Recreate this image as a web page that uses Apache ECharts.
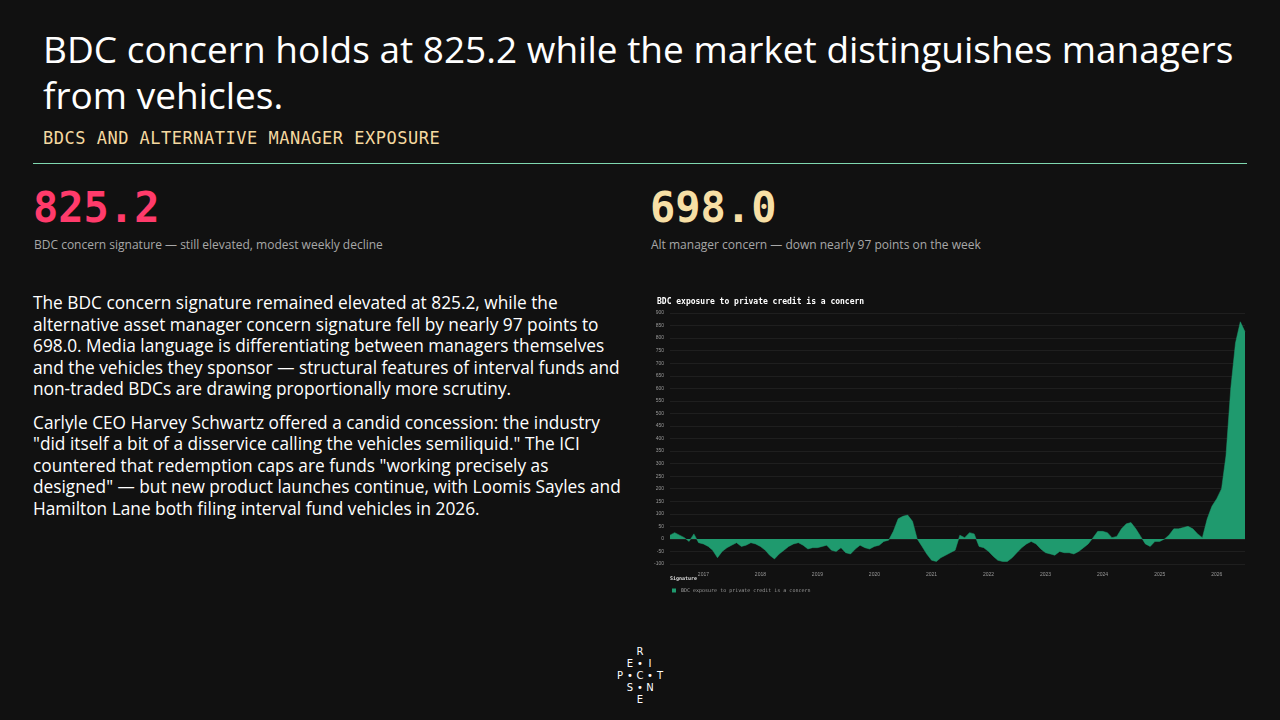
<!DOCTYPE html>
<html><head><meta charset="utf-8">
<script src="https://cdn.jsdelivr.net/npm/echarts@6/dist/echarts.min.js"></script>
<style>
body{margin:0;width:1280px;height:720px;background:#111111;color:#fff;font-family:"Open Sans",sans-serif;position:relative;overflow:hidden}
.abs{position:absolute}
h1{position:absolute;left:43px;top:26px;margin:0;font-weight:400;font-size:37px;line-height:46px;width:1220px}
.sub{left:43px;top:128px;font-family:"DejaVu Sans Mono",monospace;color:#f5d9a0;font-size:17px;letter-spacing:0.5px}
.rule{left:33px;top:163px;width:1214px;height:1px;background:#7fd8b0}
.big{font-family:"DejaVu Sans Mono",monospace;font-weight:bold;font-size:42px}
.cap{font-size:12px;color:#a8a8a8}
.body{left:33px;top:292px;width:595px;font-size:17.3px;line-height:21.5px}
.body p{margin:0 0 12px 0}
#chart{left:645px;top:290px;width:610px;height:310px}
.logo span{position:absolute;font-size:10px;font-family:"DejaVu Sans",sans-serif;color:#fff;transform:translate(-50%,-50%)}
</style></head><body>
<h1>BDC concern holds at 825.2 while the market distinguishes managers from vehicles.</h1>
<div class="abs sub">BDCS AND ALTERNATIVE MANAGER EXPOSURE</div>
<div class="abs rule"></div>
<div class="abs big" style="left:33px;top:183px;color:#ff3b6b">825.2</div>
<div class="abs cap" style="left:34px;top:236px">BDC concern signature — still elevated, modest weekly decline</div>
<div class="abs big" style="left:650px;top:183px;color:#f7dfa5">698.0</div>
<div class="abs cap" style="left:651px;top:236px">Alt manager concern — down nearly 97 points on the week</div>
<div class="abs body">
<p>The BDC concern signature remained elevated at 825.2, while the alternative asset manager concern signature fell by nearly 97 points to 698.0. Media language is differentiating between managers themselves and the vehicles they sponsor — structural features of interval funds and non-traded BDCs are drawing proportionally more scrutiny.</p>
<p>Carlyle CEO Harvey Schwartz offered a candid concession: the industry "did itself a bit of a disservice calling the vehicles semiliquid." The ICI countered that redemption caps are funds "working precisely as designed" — but new product launches continue, with Loomis Sayles and Hamilton Lane both filing interval fund vehicles in 2026.</p>
</div>
<div id="chart" class="abs"></div>
<div class="abs logo" style="left:640px;top:675px">
<span style="left:0;top:-24px">R</span>
<span style="left:-10px;top:-12px">E</span><span style="left:0;top:-12px">•</span><span style="left:10px;top:-12px">I</span>
<span style="left:-20px;top:0">P</span><span style="left:-10px;top:0">•</span><span style="left:0;top:0">C</span><span style="left:10px;top:0">•</span><span style="left:20px;top:0">T</span>
<span style="left:-10px;top:12px">S</span><span style="left:0;top:12px">•</span><span style="left:10px;top:12px">N</span>
<span style="left:0;top:24px">E</span>
</div>
<script>
const startYear = 2016, startMonth = 5; // June 2016
const monthlyValues = [
  15, 25, 15, 5, -10, 20, -15,
  -20, -30, -45, -75, -50, -35, -25, -15, -30, -25, -15, -20,
  -30, -45, -65, -80, -60, -45, -30, -20, -15, -25, -40, -35,
  -35, -30, -25, -45, -50, -35, -55, -60, -40, -25, -35, -40,
  -30, -25, -10, -5, 30, 80, 90, 95, 70, 0, -30, -60,
  -85, -90, -75, -65, -55, -45, 15, 5, 25, 20, -30, -35,
  -50, -70, -85, -90, -90, -75, -55, -35, -20, -10, -20, -40,
  -55, -60, -65, -50, -55, -55, -60, -50, -35, -20, 5, 30,
  30, 25, 5, 10, 40, 60, 65, 40, 10, -20, -30, -10,
  -10, 0, 15, 40, 40, 45, 50, 40, 20, 5, 80, 130,
  160, 200, 330, 600, 780, 865, 825.2
];
const yTicks = { min: -100, max: 900, step: 50 };
const seriesName = "BDC exposure to private credit is a concern";
const YEAR = 365.25 * 24 * 3600 * 1000;

const points = monthlyValues.map((v, i) => {
  const m = startMonth + i;
  return [new Date(startYear + Math.floor(m / 12), m % 12, 1).getTime(), v];
});

const chart = echarts.init(document.getElementById("chart"));
chart.setOption({
  animation: false,
  backgroundColor: "#111111",
  title: {
    text: "BDC exposure to private credit is a concern",
    left: 7, top: 3,
    textStyle: { color: "#fff", fontSize: 8, fontFamily: "DejaVu Sans Mono", fontWeight: "bold" }
  },
  grid: { left: 25, right: 10, top: 23, bottom: 36 },
  xAxis: {
    type: "time",
    min: new Date(2016, 5, 1).getTime(),
    max: points[points.length - 1][0],
    minInterval: YEAR, maxInterval: YEAR, splitNumber: 10,
    axisLine: { show: false }, axisTick: { show: false }, splitLine: { show: false },
    axisLabel: { color: "#999", fontSize: 5, formatter: "{yyyy}", hideOverlap: false }
  },
  yAxis: {
    type: "value", min: yTicks.min, max: yTicks.max, interval: yTicks.step,
    axisLine: { show: false }, axisTick: { show: false },
    splitLine: { lineStyle: { color: "#2a2a2a", width: 0.6 } },
    axisLabel: { color: "#999", fontSize: 5, margin: 6 }
  },
  legend: {
    left: 22, top: 293, itemWidth: 4, itemHeight: 4, itemGap: 4, icon: "rect",
    textStyle: { color: "#999", fontSize: 5, fontFamily: "DejaVu Sans Mono" },
    data: [seriesName]
  },
  graphic: [{ type: "text", left: 25, top: 286, style: { text: "Signature", fill: "#ddd", font: "bold 5px DejaVu Sans Mono" } }],
  series: [{
    name: seriesName, type: "line", data: points, symbol: "none",
    lineStyle: { width: 0.5, color: "#1f9a6e" },
    itemStyle: { color: "#1f9a6e" },
    areaStyle: { color: "#1f9a6e", opacity: 1, origin: 0 }
  }]
});
</script>
</body></html>
